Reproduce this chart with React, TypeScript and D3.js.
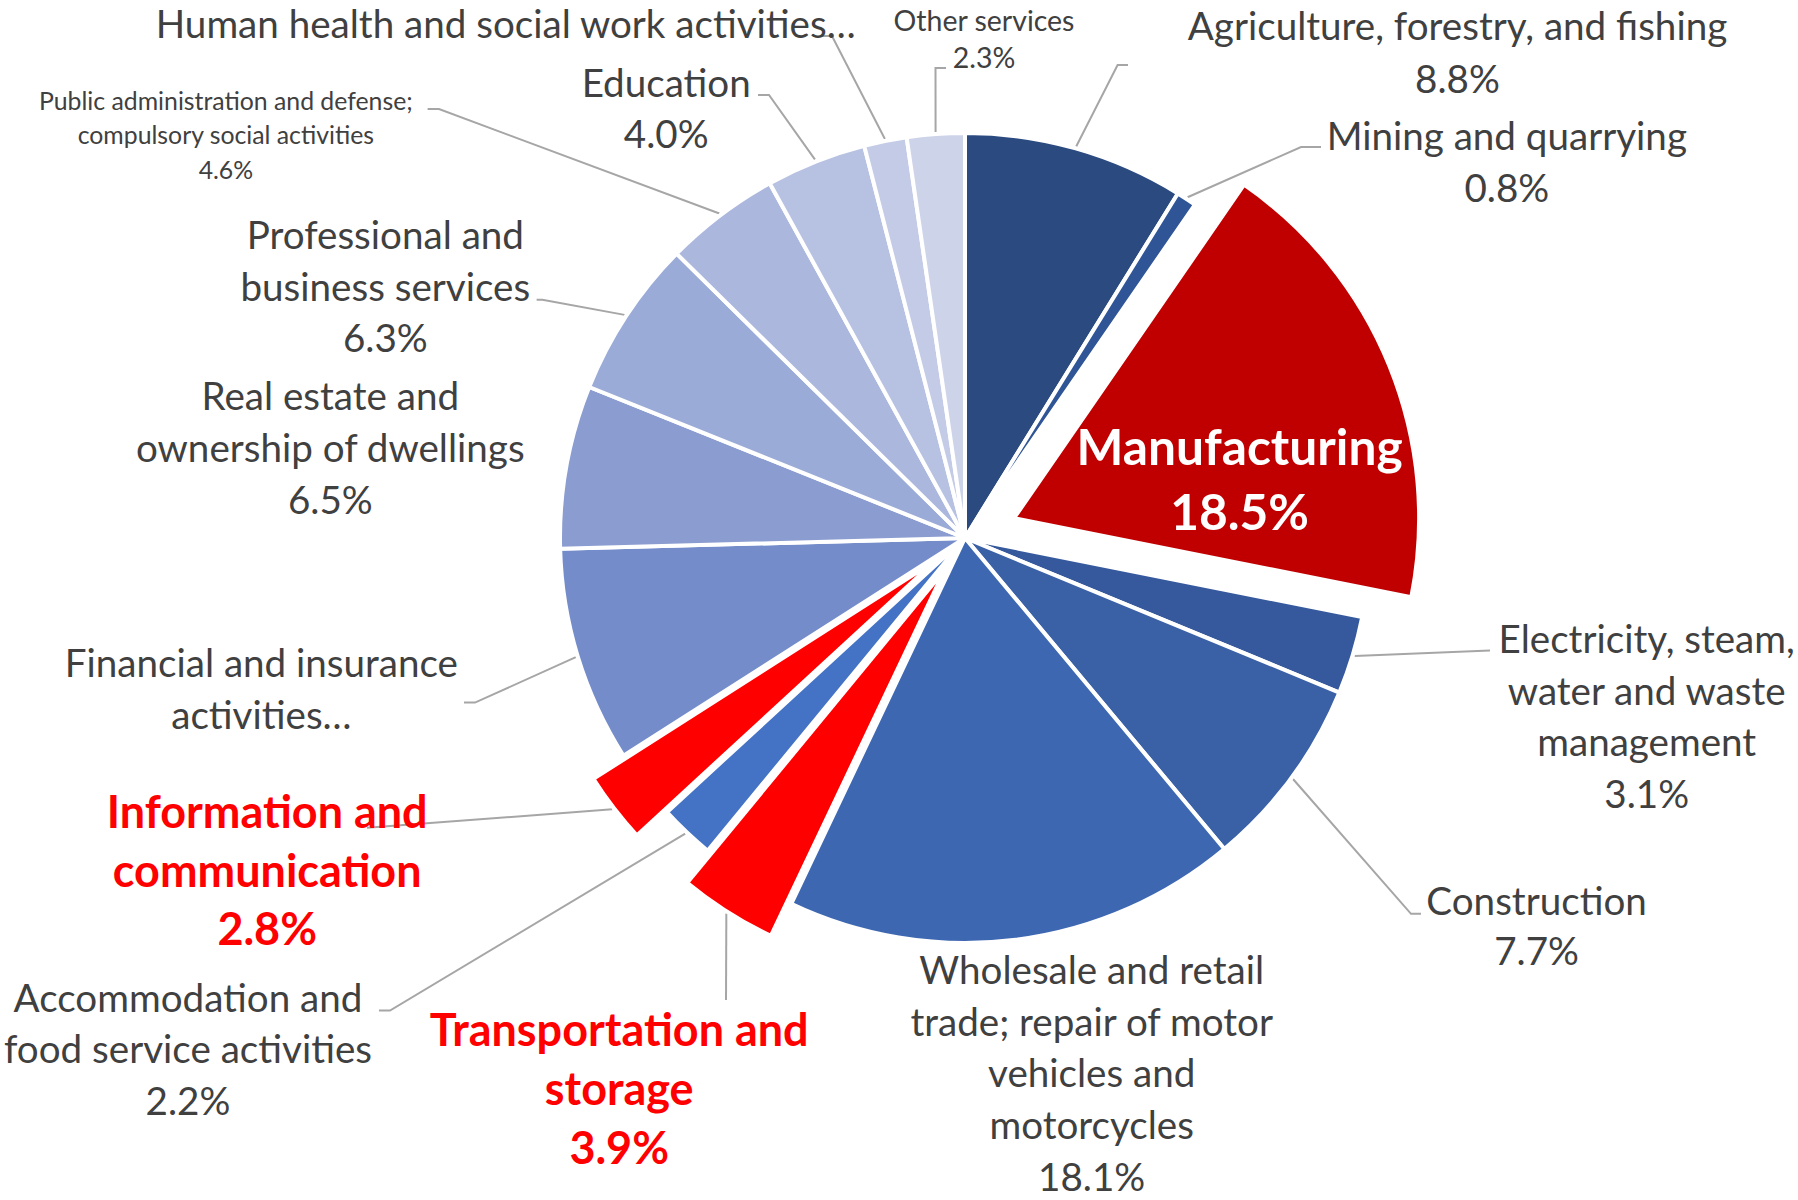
import React, { useLayoutEffect, useRef, useState } from "react";
import * as d3 from "d3";

// ---------- data ----------
const categories: string[] = [
  "Agriculture, forestry, and fishing",
  "Mining and quarrying",
  "Manufacturing",
  "Electricity, steam, water and waste management",
  "Construction",
  "Wholesale and retail trade; repair of motor vehicles and motorcycles",
  "Transportation and storage",
  "Accommodation and food service activities",
  "Information and communication",
  "Financial and insurance activities",
  "Real estate and ownership of dwellings",
  "Professional and business services",
  "Public administration and defense; compulsory social activities",
  "Education",
  "Human health and social work activities",
  "Other services",
];

const values: number[] = [8.8, 0.8, 18.5, 3.1, 7.7, 18.1, 3.9, 2.2, 2.8, 8.6, 6.5, 6.3, 4.6, 4.0, 1.7, 2.3];

// label text as displayed (wrapped; truncated ones end with an ellipsis and hide the value)
const labelLines: string[][] = [
  ["Agriculture, forestry, and fishing"],
  ["Mining and quarrying"],
  ["Manufacturing"],
  ["Electricity, steam,", "water and waste", "management"],
  ["Construction"],
  ["Wholesale and retail", "trade; repair of motor", "vehicles and", "motorcycles"],
  ["Transportation and", "storage"],
  ["Accommodation and", "food service activities"],
  ["Information and", "communication"],
  ["Financial and insurance", "activities…"],
  ["Real estate and", "ownership of dwellings"],
  ["Professional and", "business services"],
  ["Public administration and defense;", "compulsory social activities"],
  ["Education"],
  ["Human health and social work activities…"],
  ["Other services"],
];
const showValue: boolean[] = [true, true, true, true, true, true, true, true, true, false, true, true, true, true, false, true];

// ---------- style / layout ----------
const sliceColors = [
  "#2A4A80", "#2F5597", "#C00000", "#35599C", "#3A60A6", "#3E67B1", "#FF0000", "#4472C4",
  "#FF0000", "#748DCA", "#8A9CD0", "#9AABD7", "#ABB7DD", "#B7C2E2", "#C3CBE6", "#CDD4EA",
];
const explode = [0, 0, 53, 0, 0, 0, 38, 0, 38, 0, 0, 0, 0, 0, 0, 0];

type LabelStyle = {
  x: number; y: number; size: number; lh: number; weight: number; color: string;
  elbow?: [number, number]; end?: [number, number];
};
const GREY = "#404040";
const labelLayout: LabelStyle[] = [
  { x: 1457.5, y: 25.2, size: 42, lh: 52.5, weight: 400, color: GREY, elbow: [1117.6, 65], end: [1128, 65] },
  { x: 1506.8, y: 135.3, size: 42, lh: 51.6, weight: 400, color: GREY, elbow: [1301, 147], end: [1321, 147] },
  { x: 1239.6, y: 446, size: 53, lh: 65.4, weight: 700, color: "#FFFFFF" },
  { x: 1646.7, y: 638, size: 42, lh: 51.6, weight: 400, color: GREY, elbow: [1490, 650.5], end: [1490, 650.5] },
  { x: 1536.6, y: 899.5, size: 42, lh: 50.6, weight: 400, color: GREY, elbow: [1411, 913.8], end: [1421, 913.8] },
  { x: 1091.7, y: 969, size: 42, lh: 51.7, weight: 400, color: GREY },
  { x: 619.2, y: 1029, size: 48, lh: 59.0, weight: 700, color: "#FF0000", elbow: [726, 1000], end: [726, 1000] },
  { x: 188, y: 996.5, size: 42, lh: 51.6, weight: 400, color: GREY, elbow: [390, 1010.6], end: [379, 1010.6] },
  { x: 267.2, y: 811, size: 48, lh: 58.5, weight: 700, color: "#FF0000", elbow: [367, 827.7], end: [367, 827.7] },
  { x: 261.4, y: 662, size: 42, lh: 51.6, weight: 400, color: GREY, elbow: [475, 702.6], end: [464, 702.6] },
  { x: 330.3, y: 394.5, size: 42, lh: 52.2, weight: 400, color: GREY },
  { x: 385.3, y: 234, size: 42, lh: 51.6, weight: 400, color: GREY, elbow: [542.4, 299.7], end: [536.6, 299.7] },
  { x: 225.9, y: 100.5, size: 27, lh: 34.3, weight: 400, color: GREY, elbow: [439, 109], end: [427.6, 109] },
  { x: 666.2, y: 81.5, size: 42, lh: 51.6, weight: 400, color: GREY, elbow: [769, 95], end: [758, 95] },
  { x: 505.7, y: 23, size: 42, lh: 51.6, weight: 400, color: GREY, elbow: [832, 36], end: [821, 36] },
  { x: 984, y: 20, size: 31, lh: 37.3, weight: 400, color: GREY, elbow: [935.5, 68], end: [946, 68] },
];

const W = 1798;
const H = 1200;
const CX = 965;
const CY = 538;
const R = 405;
const FONT = "Lato, 'Open Sans', sans-serif";

// calibration strings: width they take in the reference (px) at the given size
const CAL_REG = { text: "Construction", size: 42, width: 220.5 };
const CAL_BOLD = { text: "communication", size: 48, width: 308.8 };

function measureText(svg: SVGSVGElement, text: string, size: number, weight: number): number {
  const el = document.createElementNS("http://www.w3.org/2000/svg", "text");
  el.setAttribute("font-family", FONT);
  el.setAttribute("font-size", String(size));
  el.setAttribute("font-weight", String(weight));
  el.setAttribute("visibility", "hidden");
  el.textContent = text;
  svg.appendChild(el);
  const w = el.getComputedTextLength();
  svg.removeChild(el);
  return w;
}

export default function App() {
  const svgRef = useRef<SVGSVGElement>(null);
  const [scale, setScale] = useState<{ reg: number; bold: number }>({ reg: 1, bold: 1 });

  useLayoutEffect(() => {
    const measure = () => {
      const svg = svgRef.current;
      if (!svg) return;
      const wr = measureText(svg, CAL_REG.text, CAL_REG.size, 400);
      const wb = measureText(svg, CAL_BOLD.text, CAL_BOLD.size, 700);
      if (wr > 0 && wb > 0) {
        setScale({ reg: CAL_REG.width / wr, bold: CAL_BOLD.width / wb });
      }
    };
    measure();
    const fonts = (document as any).fonts;
    if (fonts && fonts.ready) fonts.ready.then(measure);
  }, []);

  const pie = d3
    .pie<number>()
    .sort(null)
    .value((d) => d)
    .startAngle(0)
    .endAngle(2 * Math.PI);
  const arcs = pie(values);
  const arcGen = d3.arc<d3.PieArcDatum<number>>().innerRadius(0).outerRadius(R);

  return (
    <svg
      ref={svgRef}
      width={W}
      height={H}
      viewBox={`0 0 ${W} ${H}`}
      style={{ position: "fixed", left: 0, top: 0, background: "#fff" }}
      fontFamily={FONT}
    >
      <rect x={0} y={0} width={W} height={H} fill="#fff" />
      {/* leader lines */}
      <g fill="none" stroke="#A6A6A6" strokeWidth={2}>
        {arcs.map((a, i) => {
          const L = labelLayout[i];
          if (!L.elbow || !L.end) return null;
          const mid = (a.startAngle + a.endAngle) / 2;
          const r0 = R + explode[i] + 2;
          const sx = CX + r0 * Math.sin(mid);
          const sy = CY - r0 * Math.cos(mid);
          const path = d3.path();
          path.moveTo(sx, sy);
          path.lineTo(L.elbow[0], L.elbow[1]);
          path.lineTo(L.end[0], L.end[1]);
          return <path key={"l" + i} d={path.toString()} />;
        })}
      </g>
      {/* slices */}
      <g>
        {arcs.map((a, i) => {
          const mid = (a.startAngle + a.endAngle) / 2;
          const dx = explode[i] * Math.sin(mid);
          const dy = -explode[i] * Math.cos(mid);
          return (
            <path
              key={"s" + i}
              d={arcGen(a) || ""}
              transform={`translate(${CX + dx},${CY + dy})`}
              fill={sliceColors[i]}
              stroke="#FFFFFF"
              strokeWidth={4}
              strokeLinejoin="round"
            />
          );
        })}
      </g>
      {/* labels */}
      <g textAnchor="middle">
        {labelLines.map((lines, i) => {
          const L = labelLayout[i];
          const all = showValue[i] ? [...lines, `${values[i].toFixed(1)}%`] : lines;
          const f = L.weight >= 700 ? scale.bold : scale.reg;
          return (
            <g key={"t" + i} fill={L.color} fontSize={L.size * f} fontWeight={L.weight}>
              {all.map((t, j) => (
                <text key={j} x={L.x} y={L.y + j * L.lh} dominantBaseline="central">
                  {t}
                </text>
              ))}
            </g>
          );
        })}
      </g>
    </svg>
  );
}
